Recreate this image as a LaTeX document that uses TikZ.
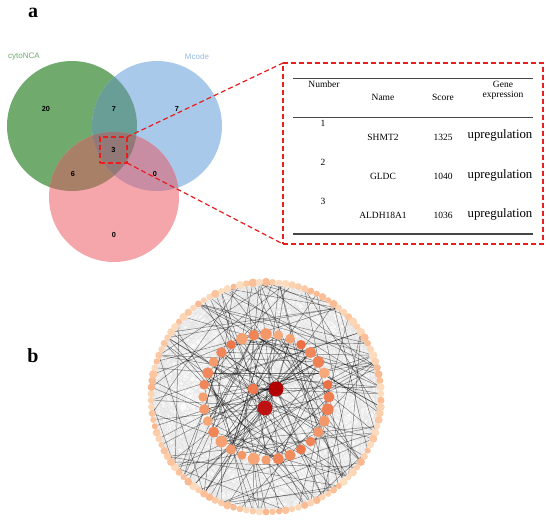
\documentclass[tikz,border=0pt]{standalone}
\usepackage{fontspec}
\setmainfont{Liberation Serif}
\newfontfamily\sansf{Liberation Sans}
\usetikzlibrary{calc}
\pgfdeclarelayer{bg}
\pgfsetlayers{bg,main}
\definecolor{vG}{RGB}{112,170,108}
\definecolor{vB}{RGB}{169,201,234}
\definecolor{vR}{RGB}{245,166,170}
\definecolor{vGB}{RGB}{104,158,150}
\definecolor{vGR}{RGB}{168,128,104}
\definecolor{vBR}{RGB}{200,140,163}
\definecolor{vGBR}{RGB}{146,120,118}
\definecolor{lblG}{RGB}{110,170,110}
\definecolor{lblB}{RGB}{150,185,225}
\definecolor{dred}{RGB}{232,30,30}
\definecolor{rule}{RGB}{70,70,70}
\definecolor{peachA}{RGB}{253,222,192}
\definecolor{peachB}{RGB}{250,182,140}
\definecolor{orA}{RGB}{247,172,125}
\definecolor{orB}{RGB}{236,112,68}
\definecolor{cred1}{RGB}{178,0,0}
\definecolor{cred2}{RGB}{190,18,18}
\definecolor{corg}{RGB}{240,122,80}
\tikzset{
  vnum/.style={font=\sansf\bfseries\fontsize{7.3}{8}\selectfont},
  vlbl/.style={font=\sansf\fontsize{8}{9}\selectfont},
  panel/.style={font=\bfseries\fontsize{20}{22}\selectfont},
  tsmall/.style={font=\fontsize{9.5}{11}\selectfont},
  tbig/.style={font=\fontsize{12.8}{14}\selectfont},
  reddash/.style={draw=dred, line width=1.2pt, dash pattern=on 5pt off 3pt},
  zoombox/.style={reddash, inner sep=0pt, outer sep=0pt},
  trule/.style={draw=rule, line width=1pt},
  onode/.style={circle, inner sep=0pt, outer sep=0pt, draw=none},
  ledge/.style={draw=gray!20, line width=0.3pt},
  dedge/.style={draw=black, opacity=0.5, line width=0.45pt},
}
\begin{document}
\begin{tikzpicture}[x=1pt,y=-1pt]
\useasboundingbox (0,0) rectangle (550,523);
% panel letters
\node[panel] (pa) at (33,13) {a};
\node[panel] (pb) at (33,356) {b};
% Venn diagram
\def\cG{(72,126) circle (65pt)}
\def\cB{(157,126) circle (65pt)}
\def\cR{(114,197) circle (65pt)}
\fill[vG] \cG;
\fill[vB] \cB;
\fill[vR] \cR;
\begin{scope}\clip \cG; \fill[vGB] \cB; \end{scope}
\begin{scope}\clip \cG; \fill[vGR] \cR; \end{scope}
\begin{scope}\clip \cB; \fill[vBR] \cR; \end{scope}
\begin{scope}\clip \cG; \clip \cB; \fill[vGBR] \cR; \end{scope}
\node[vlbl, text=lblG] (lg) at (24,57) {cytoNCA};
\node[vlbl, text=lblB] (lb) at (197,57) {Mcode};
\node[vnum] (n1) at (46,109) {20};
\node[vnum] (n2) at (114,109) {7};
\node[vnum] (n3) at (177,109) {7};
\node[vnum] (n5) at (73,174) {6};
\node[vnum] (n6) at (155,174) {0};
\node[vnum] (n7) at (114,235) {0};
\node[zoombox, vnum, minimum width=27pt, minimum height=26pt] (sq) at (113.5,150) {3};
% zoom box with table
\node[zoombox, minimum width=260pt, minimum height=181pt] (box) at (413,153.5) {};
\draw[reddash] (sq.north east) -- (box.north west);
\draw[reddash] (sq.south east) -- (box.south west);
\draw[trule, line width=1.3pt] (293,78.3) -- (533,78.3);
\draw[trule] (293,117.7) -- (533,117.7);
\draw[trule, line width=1.2pt] (293,234) -- (533,234);
\node[tsmall] (h1) at (324,84) {Number};
\node[tsmall] (h2) at (383,97.7) {Name};
\node[tsmall] (h3) at (443,97.7) {Score};
\node[tsmall] (h4) at (503,84) {Gene};
\node[tsmall] (h5) at (503,95.5) {expression};
\node[tsmall] (r1a) at (323,123) {1};
\node[tsmall] (r1b) at (383,137) {SHMT2};
\node[tsmall] (r1c) at (443,137) {1325};
\node[tbig] (r1d) at (500,135.7) {upregulation};
\node[tsmall] (r2a) at (323,162.7) {2};
\node[tsmall] (r2b) at (383,176) {GLDC};
\node[tsmall] (r2c) at (443,176) {1040};
\node[tbig] (r2d) at (500,175) {upregulation};
\node[tsmall] (r3a) at (323,201.7) {3};
\node[tsmall] (r3b) at (383,215) {ALDH18A1};
\node[tsmall] (r3c) at (443,215) {1036};
\node[tbig] (r3d) at (500,214) {upregulation};
% network
\pgfmathsetseed{7}
\coordinate (ctr) at (266,397);
\foreach \k in {1,...,110} {
  \pgfmathsetmacro\ang{90-(\k-1)*(360/110)}
  \pgfmathsetmacro\rr{6+2.6*rnd}
  \pgfmathtruncatemacro\mix{100*rnd}
  \node[onode, minimum size=\rr pt, fill=peachA!\mix!peachB] (o\k) at ($(ctr)+(\ang:115pt)$) {};
}
\foreach \k in {1,...,32} {
  \pgfmathsetmacro\ang{90-(\k-1)*(360/32)}
  \pgfmathsetmacro\rr{9+3*rnd}
  \pgfmathtruncatemacro\mix{100*rnd}
  \node[onode, minimum size=\rr pt, fill=orA!\mix!orB] (i\k) at ($(ctr)+(\ang:63pt)$) {};
}
\node[onode, minimum size=15pt, fill=cred1] (c1) at (276,389) {};
\node[onode, minimum size=15pt, fill=cred2] (c2) at (265,408) {};
\node[onode, minimum size=11pt, fill=corg] (c3) at (253,389) {};
\begin{pgfonlayer}{bg}
\fill[gray!4] (ctr) circle (115pt);
\foreach \e in {1,...,420} {
  \pgfmathrandominteger{\a}{1}{110}
  \pgfmathrandominteger{\d}{8}{100}
  \pgfmathtruncatemacro\b{mod(\a+\d,110)+1}
  \draw[ledge] (o\a) -- (o\b);
}
\foreach \e in {1,...,60} {
  \pgfmathrandominteger{\a}{1}{110}
  \pgfmathrandominteger{\d}{10}{95}
  \pgfmathtruncatemacro\b{mod(\a+\d,110)+1}
  \draw[dedge] (o\a) -- (o\b);
}
\foreach \e in {1,...,55} {
  \pgfmathrandominteger{\a}{1}{110}
  \pgfmathrandominteger{\b}{1}{32}
  \draw[dedge] (o\a) -- (i\b);
}
\foreach \e in {1,...,28} {
  \pgfmathrandominteger{\a}{1}{32}
  \pgfmathrandominteger{\d}{3}{27}
  \pgfmathtruncatemacro\b{mod(\a+\d,32)+1}
  \draw[dedge] (i\a) -- (i\b);
}
\foreach \e in {1,...,10} {
  \pgfmathrandominteger{\a}{1}{32}
  \pgfmathrandominteger{\b}{1}{110}
  \draw[dedge] (c1) -- (i\a);
  \draw[dedge] (c2) -- (o\b);
}
\foreach \e in {1,...,6} {
  \pgfmathrandominteger{\a}{1}{110}
  \draw[dedge] (c3) -- (o\a);
}
\draw[dedge] (c1) -- (c2);
\draw[dedge] (c1) -- (c3);
\draw[dedge] (c2) -- (c3);
\end{pgfonlayer}
\end{tikzpicture}
\end{document}
